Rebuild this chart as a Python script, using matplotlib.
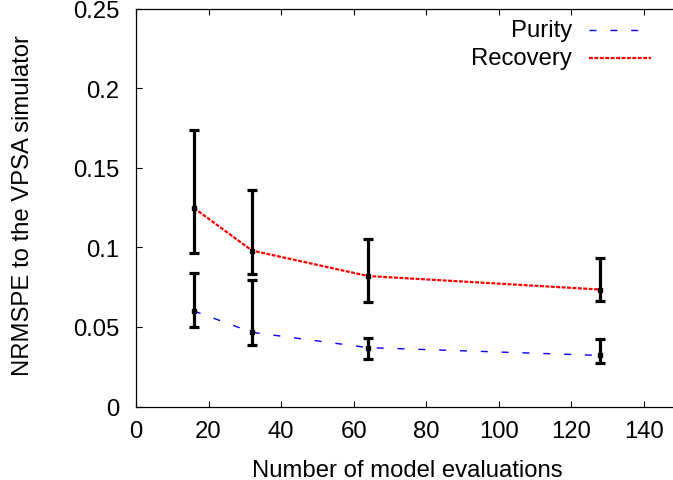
import matplotlib
matplotlib.use("Agg")
import matplotlib.pyplot as plt
import numpy as np

plt.rcParams['font.family'] = ['Liberation Sans', 'DejaVu Sans']
plt.rcParams['lines.scale_dashes'] = False

# data
evals = [16, 32, 64, 128]
purity = [0.060, 0.0466, 0.0370, 0.0321]
purity_low = [0.050, 0.0384, 0.0296, 0.0273]
purity_high = [0.084, 0.0793, 0.0428, 0.0426]
recovery = [0.1247, 0.0980, 0.0820, 0.0735]
recovery_low = [0.0963, 0.0830, 0.0655, 0.0663]
recovery_high = [0.1740, 0.1360, 0.1050, 0.0934]
xticks = [0, 20, 40, 60, 80, 100, 120, 140]
yticks = [0, 0.05, 0.1, 0.15, 0.2, 0.25]
ytick_labels = ["0", "0.05", "0.1", "0.15", "0.2", "0.25"]

W, H = 673, 481
fig = plt.figure(figsize=(W / 100, H / 100), dpi=100)
left_px, right_px, top_px, bot_px = 136, 673, 9.7, 407.5
ax = fig.add_axes([left_px / W, (H - bot_px) / H, (right_px - left_px) / W, (bot_px - top_px) / H])

FS = 17.2
ax.plot(evals, purity, color='#0000ff', lw=1.0, dashes=(5, 10), zorder=2)
ax.plot(evals, recovery, color='#ff0000', lw=1.6, dashes=(2.8, 1.1), zorder=2)

for y, lo, hi in [(purity, purity_low, purity_high), (recovery, recovery_low, recovery_high)]:
    y = np.array(y)
    err = [y - np.array(lo), np.array(hi) - y]
    ax.errorbar(evals, y, yerr=err, fmt='s', color='black', ms=3.5, ecolor='black',
                elinewidth=2.3, capsize=3.8, capthick=2.3, zorder=3)

ax.set_xlim(0, (right_px - left_px) / ((643.7 - 136) / 140))
ax.set_ylim(0, 0.25)
ax.set_xticks(xticks)
ax.set_xticklabels([str(t) for t in xticks])
ax.set_yticks(yticks)
ax.set_yticklabels(ytick_labels)
ax.tick_params(axis='x', direction='in', top=True, bottom=True, length=4.5, width=0.8,
               labelsize=FS, pad=10)
ax.tick_params(axis='y', direction='in', left=True, right=False, length=4.5, width=0.8,
               labelsize=FS, pad=12)
ax.spines['right'].set_visible(False)
for s in ['left', 'top', 'bottom']:
    ax.spines[s].set_linewidth(0.9)

fig.text(407.5 / W, 1 - 477 / H, "Number of model evaluations", fontsize=FS,
         ha='center', va='baseline')
fig.text(23 / W, 1 - 206 / H, "NRMSPE to the VPSA simulator", fontsize=FS,
         ha='center', va='center', rotation=90)

# manual gnuplot-style key (text right-aligned, sample to the right)
def fx(px):
    return (px - left_px) / (right_px - left_px)

def fy(py):
    return (bot_px - py) / (bot_px - top_px)

key = [("Purity", '#0000ff', 1.0, (5, 10), 31),
       ("Recovery", '#ff0000', 1.6, (2.8, 1.1), 59)]
for label, c, lw, d, py in key:
    ax.text(fx(572), fy(py), label, transform=ax.transAxes, ha='right', va='center', fontsize=FS)
    ax.plot([fx(589), fx(651)], [fy(py), fy(py)], transform=ax.transAxes, color=c, lw=lw,
            dashes=d, clip_on=False)

fig.savefig("out.png", dpi=100)
